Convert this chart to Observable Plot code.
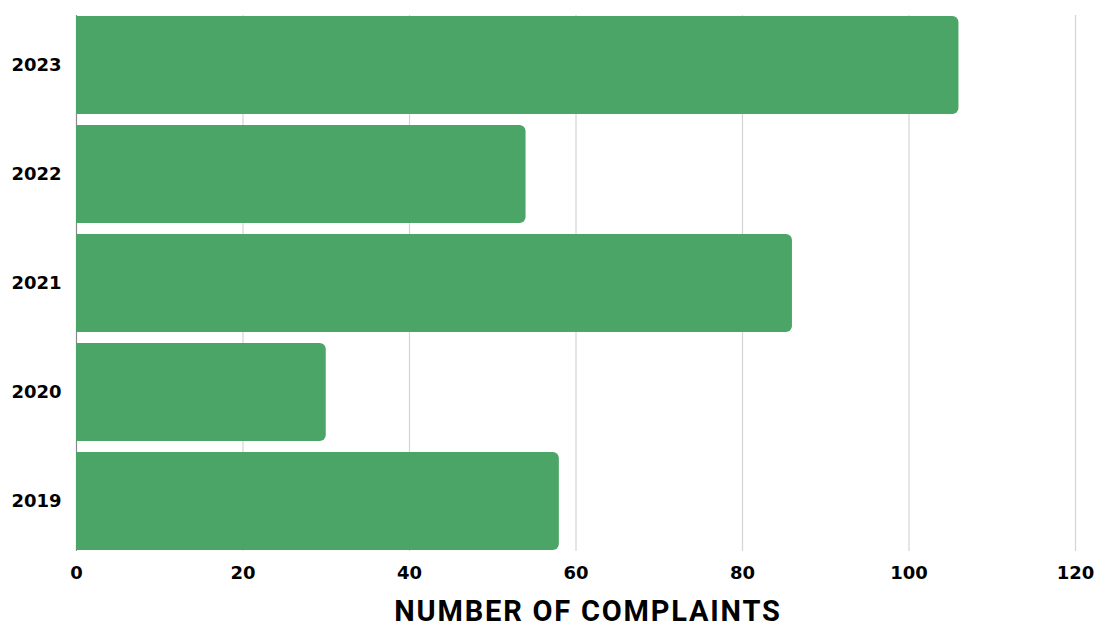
<!DOCTYPE html>
<html>
<head>
<meta charset="utf-8">
<script src="https://cdn.jsdelivr.net/npm/d3@7"></script>
<script src="https://cdn.jsdelivr.net/npm/@observablehq/plot@0.6"></script>
<style>
  html, body { margin: 0; padding: 0; background: #fff; }
  #chart svg { display: block; }
</style>
</head>
<body>
<div id="chart"></div>
<script>
const years = ["2023", "2022", "2021", "2020", "2019"];
const complaints = [106, 54, 86, 30, 58];
const xTicks = [0, 20, 40, 60, 80, 100, 120];
const axisTitle = "NUMBER OF COMPLAINTS";

const data = years.map((y, i) => ({year: y, value: complaints[i]}));

const chart = Plot.plot({
  width: 1095,
  height: 626,
  marginTop: 15,
  marginBottom: 75,
  marginLeft: 76,
  marginRight: 20,
  style: {fontFamily: "'DejaVu Sans', sans-serif", fontSize: "18px", fontWeight: 700, color: "#000", background: "#fff"},
  x: {domain: [0, 120]},
  y: {domain: years, paddingInner: 0.1, paddingOuter: 0},
  marks: [
    Plot.ruleX(xTicks.filter(d => d > 0), {stroke: "#d4d4d4", strokeWidth: 1.2}),
    Plot.ruleX([0], {stroke: "#8a8a8a", strokeWidth: 1.2}),
    Plot.barX(data, {y: "year", x: "value", fill: "#4ba566", rx2: 6}),
    Plot.axisY({tickSize: 0, tickPadding: 15, label: null, fontSize: 18}),
    Plot.axisX({ticks: xTicks, tickSize: 0, tickPadding: 15, fontSize: 18, label: null}),
    Plot.text([axisTitle], {
      text: d => d, frameAnchor: "bottom", lineAnchor: "bottom", dx: 12, dy: 69,
      fontFamily: "Roboto, sans-serif", fontWeight: 700, fontSize: 29, fill: "#000",
      ariaLabel: "axis-title"
    })
  ]
});
d3.select(chart).selectAll('g[aria-label="axis-title"] text, g[aria-label="text"] text')
  .style("letter-spacing", "1.8px");
document.getElementById("chart").appendChild(chart);
</script>
</body>
</html>
